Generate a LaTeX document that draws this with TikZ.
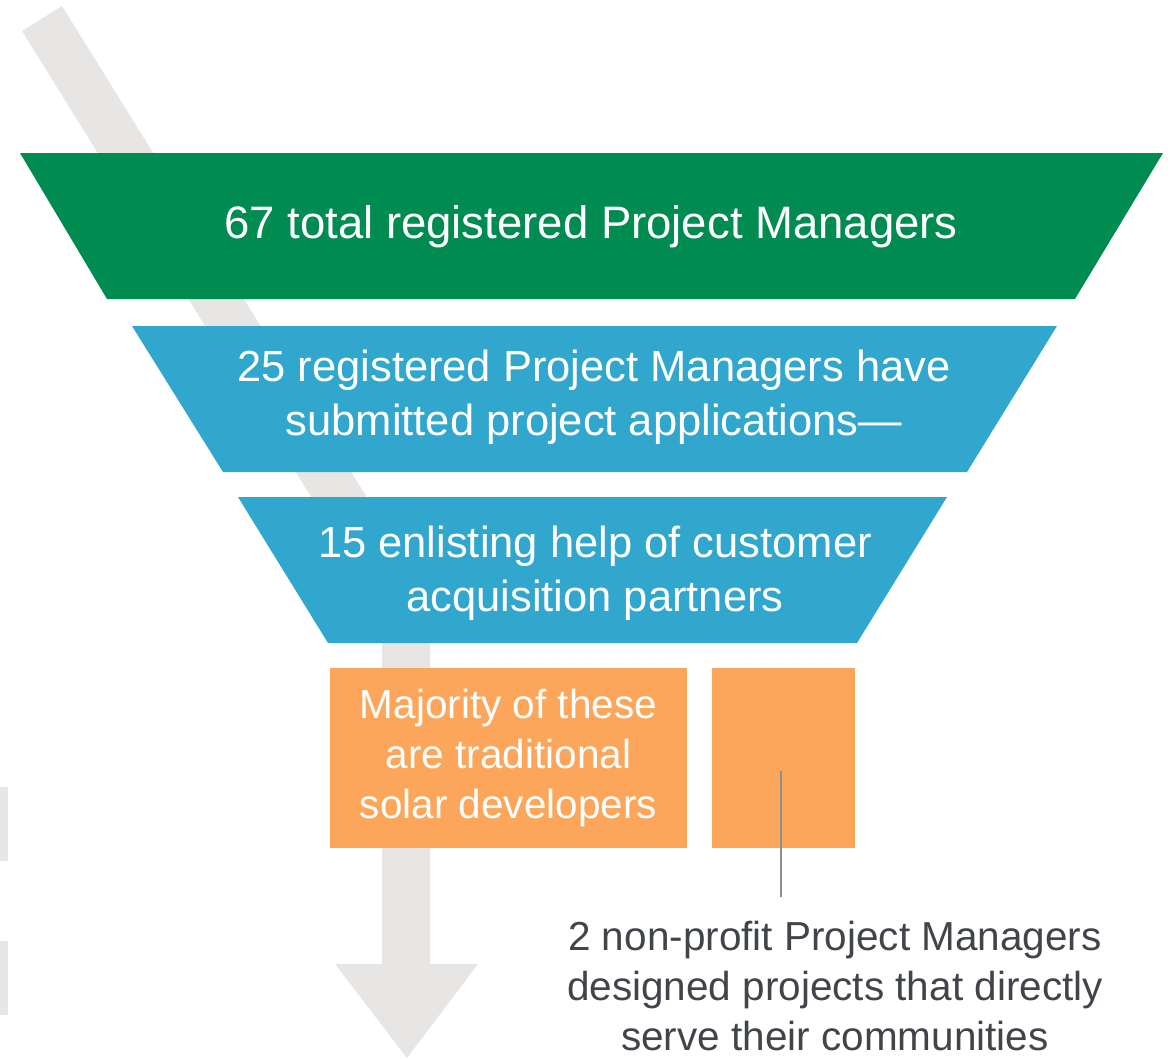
\documentclass[tikz,border=0pt]{standalone}
\usepackage{fontspec}
\setmainfont{Liberation Sans}
\usetikzlibrary{calc}
\definecolor{funnelgreen}{RGB}{0,140,81}
\definecolor{funnelblue}{RGB}{49,167,205}
\definecolor{funnelorange}{RGB}{251,166,90}
\definecolor{arrowgray}{RGB}{231,230,228}
\definecolor{leadergray}{RGB}{140,142,147}
\definecolor{notegray}{RGB}{65,68,73}

\begin{document}
\begin{tikzpicture}[x=1pt,y=-1pt]
	\useasboundingbox (0,0) rectangle (1173,1058);

	% big arrow in the back
	\fill[arrowgray] (22,31) -- (62,6) -- (430,599) -- (430,964) -- (478,964) -- (407,1058)
		-- (335,964) -- (382,964) -- (382,611) -- cycle;
	\fill[arrowgray] (0,787) rectangle (8,861);
	\fill[arrowgray] (0,941) rectangle (8,1015);

	% funnel bands
	\fill[funnelgreen] (20,153) -- (1163,153) -- (1075,299) -- (107,299) -- cycle;
	\fill[funnelblue] (132,326) -- (1057,326) -- (967,472) -- (223,472) -- cycle;
	\fill[funnelblue] (238,497) -- (947,497) -- (857,643) -- (328,643) -- cycle;

	\begin{scope}[every node/.style={text=white,align=center}]
		\node[font=\fontsize{45.5}{54}\selectfont] (total) at (591,226.5) {67 total registered Project Managers};
		\node[font=\fontsize{43.5}{54}\selectfont] (submitted) at (594,397) {25 registered Project Managers have\\submitted project applications—};
		\node[font=\fontsize{43.5}{54}\selectfont] (enlisting) at (595,573.5) {15 enlisting help of customer\\acquisition partners};
	\end{scope}

	\begin{scope}[every node/.style={fill=funnelorange,inner sep=0,minimum height=180pt,text=white,align=center,font=\fontsize{40.5}{50}\selectfont}]
		\node[minimum width=357pt] (majority) at (508.5,758) {Majority of these\\are traditional\\solar developers};
		\node[minimum width=143pt] (nonprofit) at (783.5,758) {};
	\end{scope}

	\node[text=notegray,align=center,inner sep=1pt,font=\fontsize{40.5}{50}\selectfont] (nptext) at (835,986)
		{2 non-profit Project Managers\\designed projects that directly\\serve their communities};

	\draw[leadergray,line width=2.5pt] ([xshift=-2.5pt,yshift=-13pt]nonprofit.center) -- ++(0,126);
\end{tikzpicture}
\end{document}
